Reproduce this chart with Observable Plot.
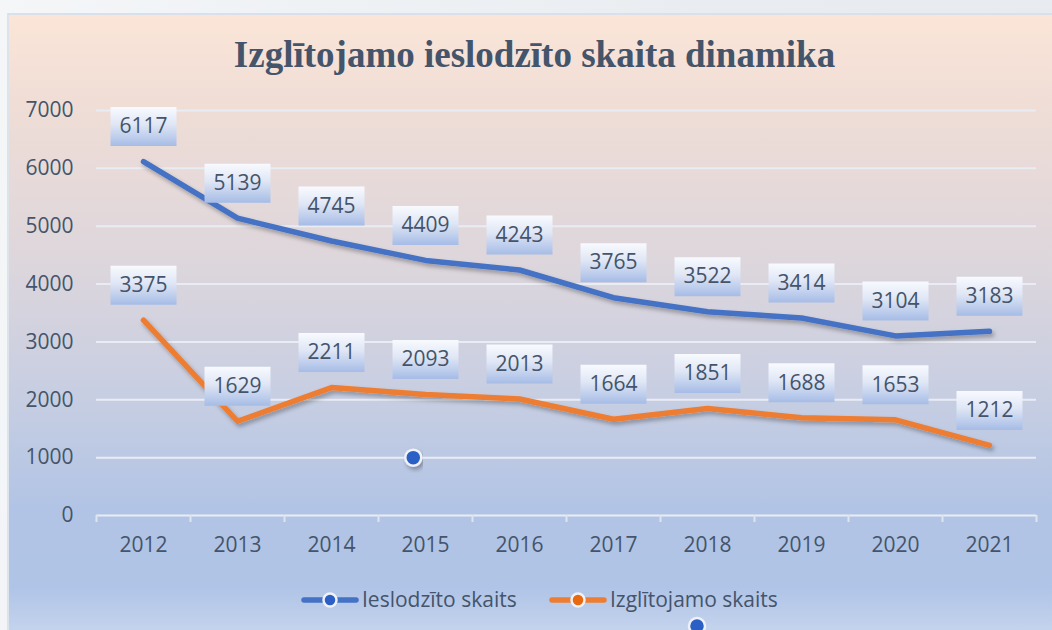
<!DOCTYPE html>
<html>
<head>
<meta charset="utf-8">
<script src="https://cdn.jsdelivr.net/npm/d3@7"></script>
<script src="https://cdn.jsdelivr.net/npm/@observablehq/plot@0.6"></script>
<style>
  html, body { margin: 0; padding: 0; }
  body { width: 1052px; height: 630px; overflow: hidden; background: linear-gradient(100deg, #f4f6f8 0%, #e9edf1 60%, #e7ebef 100%); position: relative; font-family: "Open Sans", sans-serif; }
  #panel { position: absolute; left: 7px; top: 13px; width: 1045px; height: 617px; box-sizing: border-box; border-left: 2px solid #dde3ea; border-top: 2px solid #d8e0ea;
    background: linear-gradient(180deg, #fbe5d8 0%, #efddd6 15%, #ddd6dc 40%, #c7cee2 62%, #b2c4e5 80%, #b0c4e7 93%, #c4d3ed 100%); }
  #title { position: absolute; left: 7px; width: 1055px; top: 30px; text-align: center; font-family: "Liberation Serif", "Times New Roman", serif; font-weight: bold; font-size: 37px; color: #44546a; line-height: 50px; }
  #chart { position: absolute; left: 0; top: 90px; }
  #legend { position: absolute; left: 0; top: 570px; }
</style>
</head>
<body>
<div id="panel"></div>
<div id="title">Izglītojamo ieslodzīto skaita dinamika</div>
<div id="chart"></div>
<div id="legend"></div>
<script>
const years = [2012, 2013, 2014, 2015, 2016, 2017, 2018, 2019, 2020, 2021];
const ieslodzito = [6117, 5139, 4745, 4409, 4243, 3765, 3522, 3414, 3104, 3183];
const izglitojamo = [3375, 1629, 2211, 2093, 2013, 1664, 1851, 1688, 1653, 1212];
const seriesNames = ["Ieslodzīto skaits", "Izglītojamo skaits"];
const seriesColors = ["#4472c4", "#ed7d31"];
const markerColors = ["#2c5fc6", "#e8690f"];
const yTicks = [0, 1000, 2000, 3000, 4000, 5000, 6000, 7000];
const strayMarker = [{year: 2014.87, value: 1000}];

const rowsA = years.map((y, i) => ({year: y, value: ieslodzito[i], series: seriesNames[0]}));
const rowsB = years.map((y, i) => ({year: y, value: izglitojamo[i], series: seriesNames[1]}));
const rows = rowsA.concat(rowsB);
const edges = years.map(y => y - 0.5).concat([years[years.length - 1] + 0.5]);

const textColor = "#44546a";
const fontSize = 21;
const labelBox = { draw(ctx) { ctx.rect(-33, -54.5, 66, 39); } };

const chart = Plot.plot({
  width: 1052,
  height: 540,
  marginTop: 20,
  marginBottom: 115,
  marginLeft: 96,
  marginRight: 16,
  style: "background: transparent; overflow: visible; font-family: 'Open Sans', sans-serif;",
  x: {type: "linear", domain: [edges[0], edges[edges.length - 1]], label: null},
  y: {domain: [0, 7000], label: null},
  marks: [
    Plot.ruleY(yTicks, {stroke: "#e9ecf3", strokeWidth: 2}),
    Plot.axisX({ticks: edges, tickSize: 7, stroke: "#dfe4ec", strokeWidth: 2, tickFormat: () => "", label: null}),
    Plot.axisX({ticks: years, tickSize: 0, tickPadding: 22, tickFormat: d => String(d), fontSize, fill: textColor, label: null}),
    Plot.axisY({ticks: yTicks, tickSize: 0, tickPadding: 23, tickFormat: d => String(d), fontSize, fill: textColor, label: null}),
    Plot.line(rowsA, {x: "year", y: "value", stroke: seriesColors[0], strokeWidth: 5.5, strokeLinecap: "round", strokeLinejoin: "round"}),
    Plot.line(rowsB, {x: "year", y: "value", stroke: seriesColors[1], strokeWidth: 5.5, strokeLinecap: "round", strokeLinejoin: "round"}),
    Plot.dot(strayMarker, {x: "year", y: "value", r: 8, fill: markerColors[0], stroke: "#eef1f6", strokeWidth: 2.5}),
    Plot.dot(rows, {x: "year", y: "value", symbol: labelBox, fill: "url(#boxgrad)", stroke: "none"}),
    Plot.text(rows, {x: "year", y: "value", text: d => String(d.value), dy: -35, fontSize, fill: textColor})
  ]
});

const defs = d3.select(chart).insert("defs", ":first-child");
defs.html(`
  <linearGradient id="boxgrad" x1="0" y1="0" x2="0" y2="1">
    <stop offset="0" stop-color="#f8fafe"/>
    <stop offset="0.45" stop-color="#dfe6f5"/>
    <stop offset="1" stop-color="#a6bce6"/>
  </linearGradient>
  <filter id="shadow" x="-10%" y="-20%" width="120%" height="160%">
    <feDropShadow dx="2" dy="3" stdDeviation="2" flood-color="#000" flood-opacity="0.3"/>
  </filter>`);
chart.querySelectorAll('g[aria-label="line"]').forEach(g => g.setAttribute("filter", "url(#shadow)"));
chart.querySelectorAll('g[aria-label="dot"]').forEach(g => { if (g.querySelector("circle")) g.setAttribute("filter", "url(#shadow)"); });
document.getElementById("chart").appendChild(chart);

// Legend
const lg = d3.select("#legend").append("svg").attr("width", 1052).attr("height", 60).style("overflow", "visible");
const items = [{x: 302, tx: 362}, {x: 550, tx: 610}];
seriesNames.forEach((name, i) => {
  const g = lg.append("g");
  g.append("line").attr("x1", items[i].x + 2).attr("x2", items[i].x + 54).attr("y1", 30).attr("y2", 30)
    .attr("stroke", seriesColors[i]).attr("stroke-width", 5.5).attr("stroke-linecap", "round");
  g.append("circle").attr("cx", items[i].x + 28).attr("cy", 30).attr("r", 6.5)
    .attr("fill", markerColors[i]).attr("stroke", "#eef1f6").attr("stroke-width", 2.5);
  g.append("text").attr("x", items[i].tx).attr("y", 30).attr("dy", "0.35em")
    .attr("font-family", "'Open Sans', sans-serif").attr("font-size", fontSize).attr("fill", textColor).text(name);
});
// stray marker at the bottom edge
lg.append("circle").attr("cx", 697).attr("cy", 56).attr("r", 8).attr("fill", markerColors[0]).attr("stroke", "#eef1f6").attr("stroke-width", 2.5);
</script>
</body>
</html>
